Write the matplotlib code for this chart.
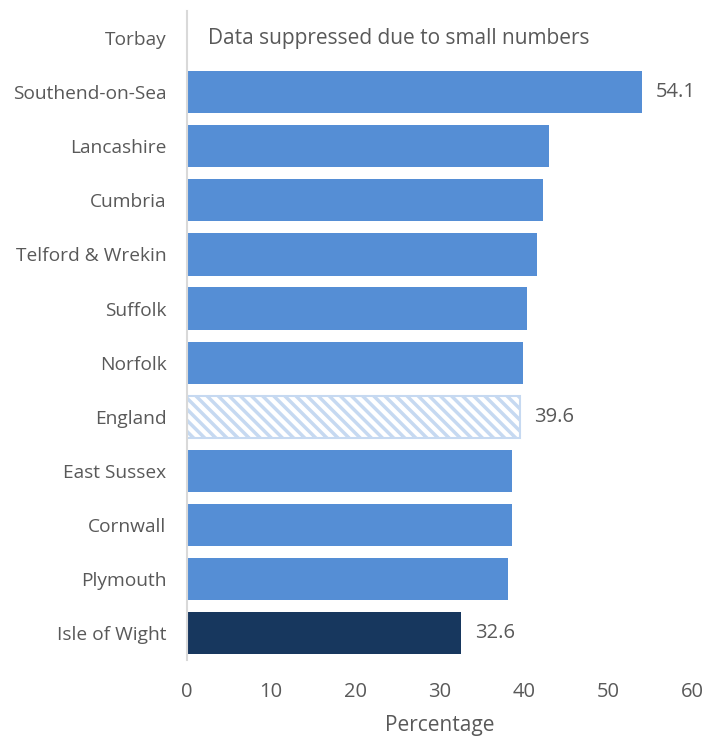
import matplotlib.pyplot as plt
import numpy as np

plt.rcParams['font.family'] = ['Open Sans', 'DejaVu Sans']
plt.rcParams['hatch.linewidth'] = 2.5

# Areas from top to bottom; None = suppressed
areas = ["Torbay", "Southend-on-Sea", "Lancashire", "Cumbria", "Telford & Wrekin",
         "Suffolk", "Norfolk", "England", "East Sussex", "Cornwall", "Plymouth",
         "Isle of Wight"]
values = [None, 54.1, 43.0, 42.3, 41.6, 40.4, 39.9, 39.6, 38.6, 38.6, 38.1, 32.6]
labelled = ["Southend-on-Sea", "England", "Isle of Wight"]

blue = "#558ed5"
navy = "#17375e"
pale = "#c6d9f1"
grey = "#595959"

fig = plt.figure(figsize=(7.21, 7.36), dpi=100)
ax = fig.add_axes([0.259, 0.103, 0.701, 0.882])

y = np.arange(len(areas))
for i, (name, v) in enumerate(zip(areas, values)):
    if v is None:
        ax.text(2.5, i, "Data suppressed due to small numbers", va="center",
                ha="left", fontsize=15, color=grey)
        continue
    if name == "England":
        ax.barh(i, v, height=0.78, color="white", edgecolor=pale, hatch="\\\\\\",
                linewidth=1.5)
    elif name == "Isle of Wight":
        ax.barh(i, v, height=0.78, color=navy)
    else:
        ax.barh(i, v, height=0.78, color=blue)
    if name in labelled:
        ax.text(v + 1.6, i, f"{v:.1f}", va="center", ha="left", fontsize=14.5,
                color=grey)

ax.set_xlim(0, 60)
ax.set_ylim(len(areas) - 0.5, -0.5)
ax.set_yticks(y)
ax.set_yticklabels(areas)
ax.set_xticks(np.arange(0, 61, 10))
ax.tick_params(axis="both", length=0, colors=grey)
ax.tick_params(axis="y", labelsize=13.8, pad=14.5)
ax.tick_params(axis="x", labelsize=14.5, pad=16)
ax.set_xlabel("Percentage", fontsize=15, color=grey, labelpad=9)

for s in ["top", "right", "bottom"]:
    ax.spines[s].set_visible(False)
ax.spines["left"].set_color("#d9d9d9")
ax.spines["left"].set_linewidth(1.5)

fig.savefig("out.png", dpi=100)
